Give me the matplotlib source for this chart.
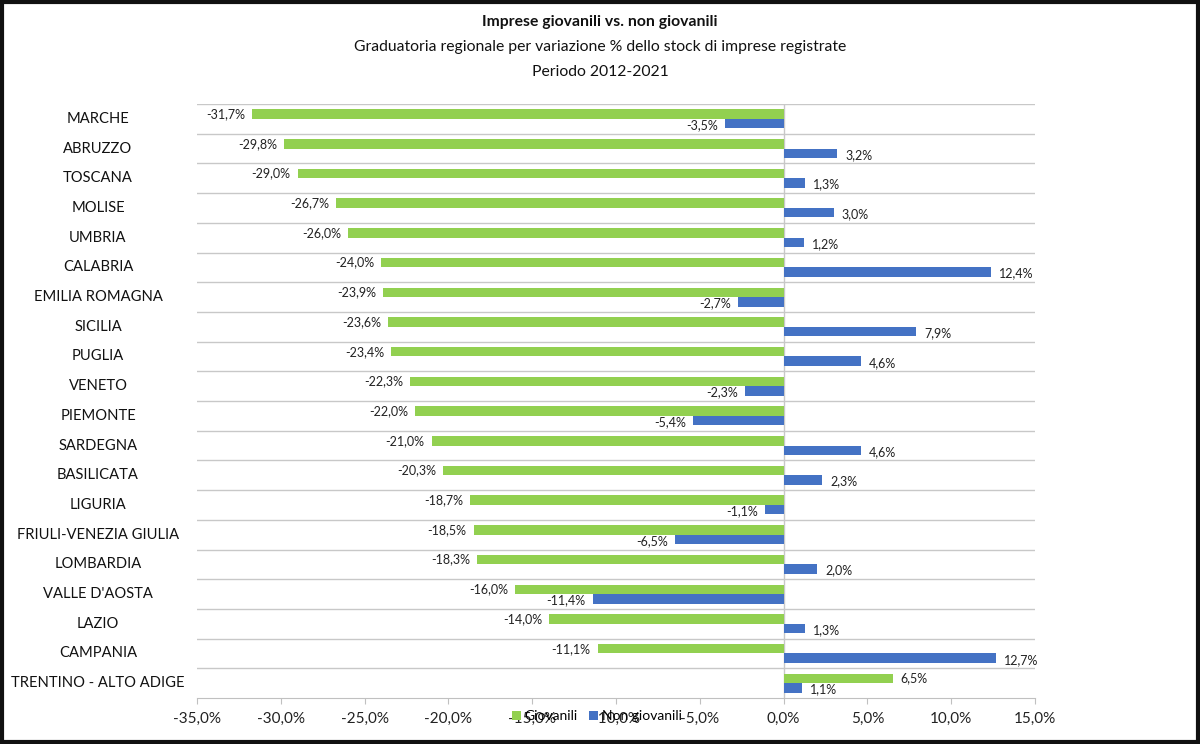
import matplotlib
matplotlib.use("Agg")
import matplotlib.pyplot as plt
from matplotlib.patches import Rectangle
from matplotlib.transforms import blended_transform_factory

plt.rcParams['font.family'] = ['Lato', 'DejaVu Sans']

regions = ["MARCHE", "ABRUZZO", "TOSCANA", "MOLISE", "UMBRIA", "CALABRIA",
           "EMILIA ROMAGNA", "SICILIA", "PUGLIA", "VENETO", "PIEMONTE",
           "SARDEGNA", "BASILICATA", "LIGURIA", "FRIULI-VENEZIA GIULIA",
           "LOMBARDIA", "VALLE D'AOSTA", "LAZIO", "CAMPANIA",
           "TRENTINO - ALTO ADIGE"]
giovanili = [-31.7, -29.8, -29.0, -26.7, -26.0, -24.0, -23.9, -23.6, -23.4,
             -22.3, -22.0, -21.0, -20.3, -18.7, -18.5, -18.3, -16.0, -14.0,
             -11.1, 6.5]
non_giovanili = [-3.5, 3.2, 1.3, 3.0, 1.2, 12.4, -2.7, 7.9, 4.6, -2.3, -5.4,
                 4.6, 2.3, -1.1, -6.5, 2.0, -11.4, 1.3, 12.7, 1.1]
x_ticks = [-35, -30, -25, -20, -15, -10, -5, 0, 5, 10, 15]

GREEN = "#92D050"
BLUE = "#4472C4"

W, H = 1200, 744
fig = plt.figure(figsize=(W / 100, H / 100), dpi=100)
ax = fig.add_axes([197 / W, 1 - 698 / H, (1035 - 197) / W, (698 - 104) / H])

n = len(regions)
ys = list(range(n))
h = 0.32
yg = [y - h / 2 for y in ys]
yb = [y + h / 2 for y in ys]
ax.barh(yg, giovanili, height=h, color=GREEN, label="Giovanili", zorder=3)
ax.barh(yb, non_giovanili, height=h, color=BLUE, label="Non giovanili", zorder=3)

ax.set_xlim(-35, 15)
ax.set_ylim(n - 0.5, -0.5)


def fmt(v):
    return ("%.1f%%" % v).replace(".", ",")


for y, v in zip(yg, giovanili):
    off = 8 if v >= 0 else -7
    ax.annotate(fmt(v), (v, y), xytext=(off, 0), textcoords="offset pixels",
                ha="left" if v >= 0 else "right", va="center", fontsize=9,
                color="#222222")
for y, v in zip(yb, non_giovanili):
    off = 8 if v >= 0 else -7
    ax.annotate(fmt(v), (v, y + 0.05), xytext=(off, 0), textcoords="offset pixels",
                ha="left" if v >= 0 else "right", va="center", fontsize=9,
                color="#222222")

# gridlines at category boundaries
ax.set_yticks([y - 0.5 for y in ys], minor=True)
ax.set_yticks([])
ax.grid(True, axis="y", which="minor", color="#C8C8C8", lw=1, zorder=0)
ax.tick_params(axis="y", which="both", length=0)
ax.axvline(0, color="#C8C8C8", lw=1, zorder=2)

for s in ["top", "right", "left"]:
    ax.spines[s].set_visible(False)
ax.spines["bottom"].set_color("#C0C0C0")
ax.set_xticks(x_ticks)
ax.set_xticklabels([fmt(t) for t in x_ticks], fontsize=11, color="#222222")
ax.tick_params(axis="x", direction="out", length=4, color="#C0C0C0", pad=6)

tr = blended_transform_factory(fig.transFigure, ax.transData)
for y, name in zip(ys, regions):
    ax.text(98 / W, y, name, transform=tr, ha="center", va="center",
            fontsize=10.6, color="#111111")

fig.text(0.5, 1 - 22 / H, "Imprese giovanili vs. non giovanili", ha="center",
         va="center", fontsize=11.3, fontweight="bold", color="#111111")
fig.text(0.5, 1 - 47 / H,
         "Graduatoria regionale per variazione % dello stock di imprese registrate",
         ha="center", va="center", fontsize=11.3, color="#111111")
fig.text(0.5, 1 - 72 / H, "Periodo 2012-2021", ha="center", va="center",
         fontsize=11.3, color="#111111")

fig.legend(loc="center", bbox_to_anchor=(597 / W, 1 - 716 / H), ncol=2,
           frameon=False, fontsize=10, handlelength=0.6, handleheight=0.6,
           handletextpad=0.3, columnspacing=0.8)

fig.patches.append(Rectangle((0.002, 0.003), 0.996, 0.994, fill=False,
                             lw=3, edgecolor="#111111",
                             transform=fig.transFigure, figure=fig))

fig.savefig("out.png", dpi=100)
